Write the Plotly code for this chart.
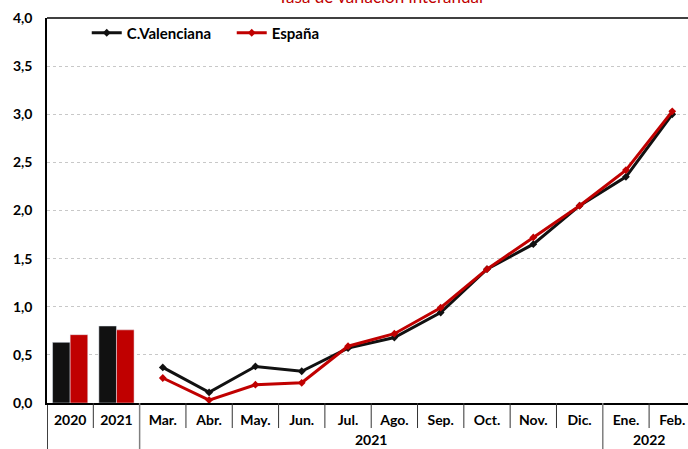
import plotly.graph_objects as go

# categorías del eje x
categorias = ["2020", "2021", "Mar.", "Abr.", "May.", "Jun.", "Jul.", "Ago.",
              "Sep.", "Oct.", "Nov.", "Dic.", "Ene.", "Feb."]
anuales = ["2020", "2021"]
meses = categorias[2:]

# medias anuales (barras)
cv_anual = [0.63, 0.80]
esp_anual = [0.71, 0.76]

# tasa interanual mensual (líneas)
cv_mes = [0.37, 0.11, 0.38, 0.33, 0.57, 0.68, 0.94, 1.39, 1.65, 2.05, 2.35, 3.00]
esp_mes = [0.26, 0.03, 0.19, 0.21, 0.59, 0.72, 0.99, 1.39, 1.72, 2.05, 2.42, 3.03]

# grupos de años bajo los meses
grupos = [("2021", 2, 11), ("2022", 12, 13)]

NEGRO = "#111111"
ROJO = "#C00000"
FUENTE = "Lato"

fig = go.Figure()

fig.add_trace(go.Bar(x=anuales, y=cv_anual, marker_color=NEGRO, showlegend=False))
fig.add_trace(go.Bar(x=anuales, y=esp_anual, marker_color=ROJO, showlegend=False))

fig.add_trace(go.Scatter(
    x=meses, y=cv_mes, name="C.Valenciana", mode="lines+markers",
    line=dict(color=NEGRO, width=3), marker=dict(symbol="diamond", size=6),
))
fig.add_trace(go.Scatter(
    x=meses, y=esp_mes, name="España", mode="lines+markers",
    line=dict(color=ROJO, width=3), marker=dict(symbol="diamond", size=6),
))

# separadores del eje x
n = len(categorias)
shapes = []
largos = {-0.5, 1.5, 11.5}
for i in range(n):
    b = i - 0.5
    if b in largos:
        continue
    shapes.append(dict(type="line", xref="x", yref="paper", x0=b, x1=b,
                       y0=0, y1=-0.065, line=dict(color="#333333", width=1)))
for b in sorted(largos):
    col = "#000000" if b == -0.5 else "#7f7f7f"
    shapes.append(dict(type="line", xref="x", yref="paper", x0=b, x1=b,
                       y0=0, y1=-0.125, line=dict(color=col, width=1.5)))
# borde superior
shapes.append(dict(type="line", xref="paper", yref="paper", x0=0, x1=1,
                   y0=1, y1=1, line=dict(color="#000000", width=1.5)))

annotations = []
for txt, a, b in grupos:
    annotations.append(dict(x=(a + b) / 2, y=-0.096, xref="x", yref="paper",
                            text=txt, showarrow=False, yanchor="middle",
                            font=dict(family=FUENTE, size=14, color="#000000", weight="bold")))
annotations.append(dict(x=0.52, y=1, xref="paper", yref="paper",
                        text="Tasa de variación interanual", showarrow=False,
                        yanchor="bottom", yshift=9,
                        font=dict(family=FUENTE, size=17, color=ROJO)))

fig.update_layout(
    width=688, height=449,
    margin=dict(l=47, r=0, t=18, b=46),
    plot_bgcolor="white", paper_bgcolor="white",
    barmode="group", bargap=0.24, bargroupgap=0,
    separators=",.",
    font=dict(family=FUENTE, size=14, color="#000000"),
    shapes=shapes, annotations=annotations,
    legend=dict(orientation="h", x=0.062, y=0.961, xanchor="left", yanchor="middle",
                bgcolor="rgba(0,0,0,0)", entrywidth=100, entrywidthmode="pixels",
                font=dict(family=FUENTE, size=15, weight="bold")),
)

fig.update_xaxes(
    type="category", categoryorder="array", categoryarray=categorias,
    range=[-0.5, 13.34], showline=True, linecolor="#000000", linewidth=1.5,
    ticks="outside", ticklen=3, tickcolor="rgba(0,0,0,0)", automargin=False,
    tickfont=dict(family=FUENTE, size=14, weight="bold"), showgrid=False,
)
fig.update_yaxes(
    range=[0, 4], dtick=0.5, tickformat=".1f", automargin=False,
    showline=True, linecolor="#000000", linewidth=1.5,
    showgrid=True, gridcolor="#c8c8c8", griddash="dot", gridwidth=1,
    ticks="outside", ticklen=10, tickcolor="rgba(0,0,0,0)",
    tickfont=dict(family=FUENTE, size=14, weight="bold"), zeroline=False,
)

# sin margen del cuerpo de la página ni barra de herramientas
fig.write_html("out.html", config={"displayModeBar": False},
               post_script="document.body.style.margin='0';")
